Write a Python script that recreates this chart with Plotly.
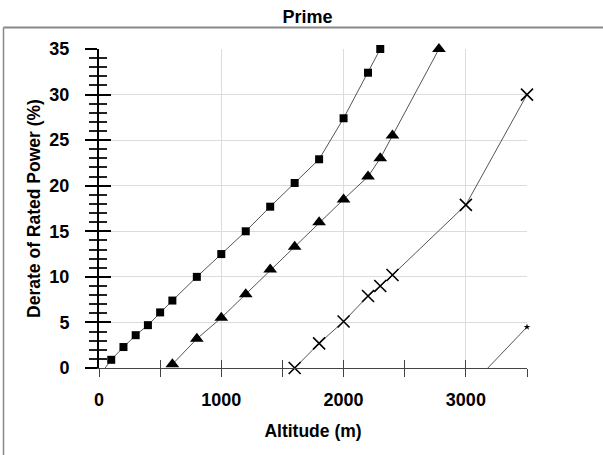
import plotly.graph_objects as go

# ---- data ----
square_alt = [50, 100, 200, 300, 400, 500, 600, 800, 1000, 1200, 1400, 1600, 1800, 2000, 2200, 2300]
square_derate = [0.0, 0.9, 2.3, 3.6, 4.7, 6.1, 7.4, 10.0, 12.5, 15.0, 17.7, 20.3, 22.9, 27.4, 32.4, 35.0]

tri_alt = [600, 800, 1000, 1200, 1400, 1600, 1800, 2000, 2200, 2300, 2400, 2780]
tri_derate = [0.4, 3.2, 5.5, 8.1, 10.8, 13.3, 16.0, 18.5, 21.0, 23.0, 25.5, 35.0]

x_alt = [1600, 1800, 2000, 2200, 2300, 2400, 3000, 3500]
x_derate = [0.0, 2.7, 5.1, 7.9, 9.0, 10.2, 17.9, 30.0]

star_alt = [3180, 3500]
star_derate = [0.0, 4.5]

x_ticks = [0, 1000, 2000, 3000]
y_ticks = [0, 5, 10, 15, 20, 25, 30, 35]

FONT = "Liberation Sans, Arial, sans-serif"
LINE = "#555555"

fig = go.Figure()

# line of the square series (includes its unmarked start point)
fig.add_trace(go.Scatter(
    x=square_alt, y=square_derate, mode="lines", cliponaxis=False,
    line=dict(color=LINE, width=1), showlegend=False, hoverinfo="skip"))
fig.add_trace(go.Scatter(
    x=square_alt[1:], y=square_derate[1:], mode="markers", cliponaxis=False,
    marker=dict(symbol="square", color="#000000", size=8, opacity=1,
                line=dict(width=0)),
    showlegend=False))

fig.add_trace(go.Scatter(
    x=tri_alt, y=tri_derate, mode="lines+markers", cliponaxis=False,
    line=dict(color=LINE, width=1),
    marker=dict(symbol="triangle-up", color="black", size=12),
    showlegend=False))

fig.add_trace(go.Scatter(
    x=x_alt, y=x_derate, mode="lines+markers", cliponaxis=False,
    line=dict(color=LINE, width=1),
    marker=dict(symbol="x-thin", color="black", size=12,
                line=dict(color="black", width=1.6)),
    showlegend=False))

fig.add_trace(go.Scatter(
    x=star_alt, y=star_derate, mode="lines", cliponaxis=False,
    line=dict(color=LINE, width=1), showlegend=False, hoverinfo="skip"))
fig.add_trace(go.Scatter(
    x=star_alt[1:], y=star_derate[1:], mode="markers", cliponaxis=False,
    marker=dict(symbol="star", color="black", size=5),
    showlegend=False))

# invisible trace to activate overlay axes
fig.add_trace(go.Scatter(x=[None], y=[None], xaxis="x2", yaxis="y2",
                         showlegend=False, hoverinfo="skip"))

tickfont = dict(family=FONT, size=18, color="black", weight="bold")
titlefont = dict(family=FONT, size=17.5, color="black", weight="bold")

fig.update_layout(
    width=603, height=455,
    margin=dict(l=99, r=76, t=49, b=87),
    paper_bgcolor="white", plot_bgcolor="white",
    title=dict(text="Prime", x=0.51, xanchor="center", xref="container",
               y=1 - 17 / 455, yanchor="middle", yref="container",
               font=dict(family=FONT, size=18, color="black", weight="bold")),
    xaxis=dict(
        range=[0, 3500], tickmode="array", tickvals=x_ticks, automargin=False,
        showgrid=True, gridcolor="#dcdcdc", gridwidth=1,
        zeroline=False, showline=True, linecolor="#444444", linewidth=1,
        ticks="outside", ticklen=8, tickwidth=1, tickcolor="#444444",
        minor=dict(dtick=500, ticks="outside", ticklen=8, tickwidth=1,
                   tickcolor="#444444", showgrid=False),
        tickfont=tickfont, ticklabelstandoff=7,
        title=dict(text="Altitude (m)", standoff=16, font=titlefont),
    ),
    xaxis2=dict(
        overlaying="x", matches="x", anchor="y", side="bottom",
        range=[0, 3500], dtick=500, tick0=0, automargin=False,
        showgrid=False, zeroline=False, showline=False, showticklabels=False,
        ticks="inside", ticklen=8, tickwidth=1, tickcolor="#444444",
    ),
    yaxis=dict(
        range=[0, 35], tickmode="array", tickvals=y_ticks, automargin=False,
        showgrid=True, gridcolor="#dcdcdc", gridwidth=1,
        zeroline=False, showline=True, linecolor="black", linewidth=2,
        ticks="outside", ticklen=12, tickwidth=2, tickcolor="black",
        minor=dict(dtick=1, ticks="outside", ticklen=8, tickwidth=1.5,
                   tickcolor="#222222", showgrid=False),
        tickfont=tickfont, ticklabelstandoff=12,
        title=dict(text="Derate of Rated Power (%)", standoff=4, font=titlefont),
    ),
    yaxis2=dict(
        overlaying="y", matches="y", anchor="x", side="left",
        range=[0, 35], dtick=5, tick0=0, automargin=False,
        showgrid=False, zeroline=False, showline=False, showticklabels=False,
        ticks="inside", ticklen=12, tickwidth=2, tickcolor="black",
        minor=dict(dtick=1, ticks="inside", ticklen=8, tickwidth=1.5,
                   tickcolor="#222222", showgrid=False),
    ),
    shapes=[
        dict(type="line", xref="paper", yref="paper",
             x0=(3.5 - 99) / 428, x1=(603 - 99) / 428 + 0.01,
             y0=(368 - 27.5) / 319, y1=(368 - 27.5) / 319,
             line=dict(color="#888888", width=2)),
        dict(type="line", xref="paper", yref="paper",
             x0=(3.5 - 99) / 428, x1=(3.5 - 99) / 428,
             y0=(368 - 27.5) / 319, y1=(368 - 460) / 319,
             line=dict(color="#888888", width=1.5)),
    ],
)

fig.write_html("out.html", config={"displayModeBar": False},
               post_script="document.body.style.margin='0px';")
